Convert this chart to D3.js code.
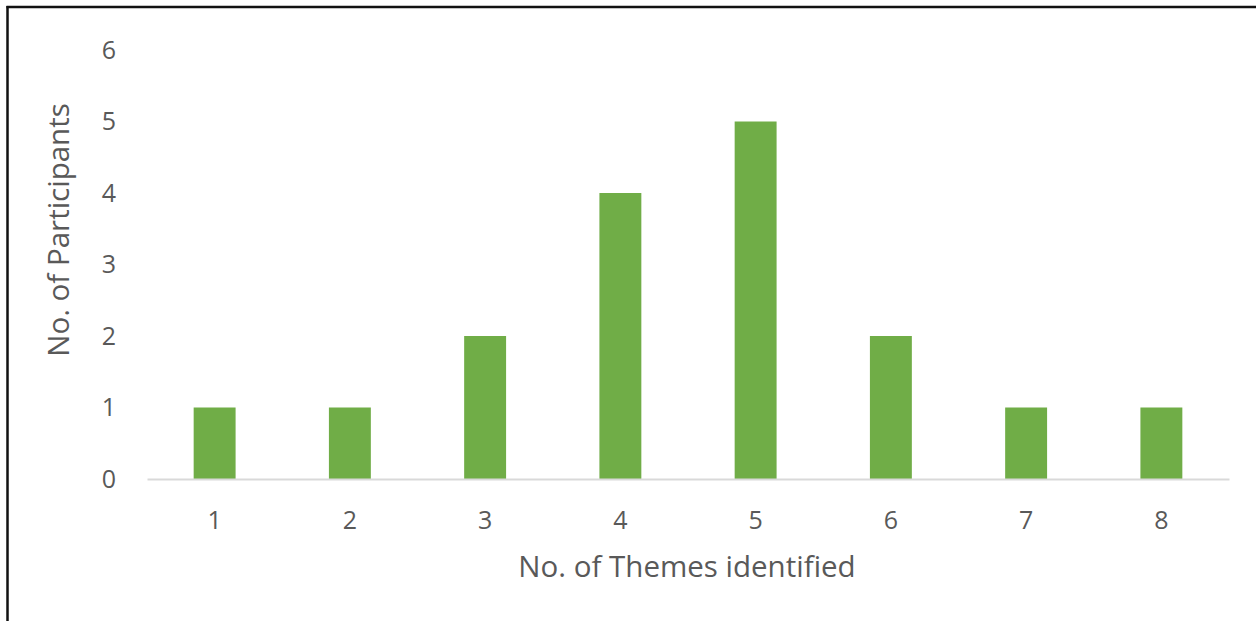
<!DOCTYPE html>
<html><head><meta charset="utf-8">
<script src="https://cdn.jsdelivr.net/npm/d3@7"></script>
<style>
html,body{margin:0;padding:0;background:#fff;}
svg{display:block;font-family:"Open Sans",sans-serif;}
</style></head>
<body><svg id="c" width="1256" height="621"></svg>
<script>
const categories = ["1","2","3","4","5","6","7","8"];
const participants = [1,1,2,4,5,2,1,1];
const yTicks = [0,1,2,3,4,5,6];
const xTitle = "No. of Themes identified";
const yTitle = "No. of Participants";

const svg = d3.select("#c");
// outer frame (left and top only)
svg.append("line").attr("x1",7.5).attr("x2",7.5).attr("y1",6).attr("y2",621).attr("stroke","#111").attr("stroke-width",2.5);
svg.append("line").attr("x1",6.5).attr("x2",1256).attr("y1",7).attr("y2",7).attr("stroke","#111").attr("stroke-width",2.5);

const x = d3.scaleBand().domain(categories).range([147,1229]).paddingInner(0.69).paddingOuter(0.345);
const y = d3.scaleLinear().domain([0,6]).range([479,50]);

svg.selectAll("rect.bar").data(participants).enter().append("rect")
  .attr("class","bar")
  .attr("x",(d,i)=>x(categories[i]))
  .attr("width",x.bandwidth())
  .attr("y",d=>y(d))
  .attr("height",d=>y(0)-y(d))
  .attr("fill","#70AD47");

// x axis
const xa = svg.append("g").attr("transform","translate(0,479)").call(d3.axisBottom(x).tickSize(0).tickPadding(32));
xa.select(".domain").attr("stroke","#d9d9d9").attr("stroke-width",2);
xa.selectAll("text").attr("font-size",25).attr("fill","#595959").attr("font-family","Open Sans");

const ya = svg.append("g").attr("transform","translate(147,0)").call(d3.axisLeft(y).tickValues(yTicks).tickFormat(d3.format("d")).tickSize(0).tickPadding(31));
ya.select(".domain").remove();
ya.selectAll("text").attr("font-size",25).attr("fill","#595959").attr("font-family","Open Sans");

svg.append("text").attr("x",687).attr("y",577).attr("text-anchor","middle").attr("font-size",29.5).attr("fill","#595959").text(xTitle);
svg.append("text").attr("transform","translate(69,230) rotate(-90)").attr("text-anchor","middle").attr("font-size",29.5).attr("fill","#595959").text(yTitle);
</script></body></html>
